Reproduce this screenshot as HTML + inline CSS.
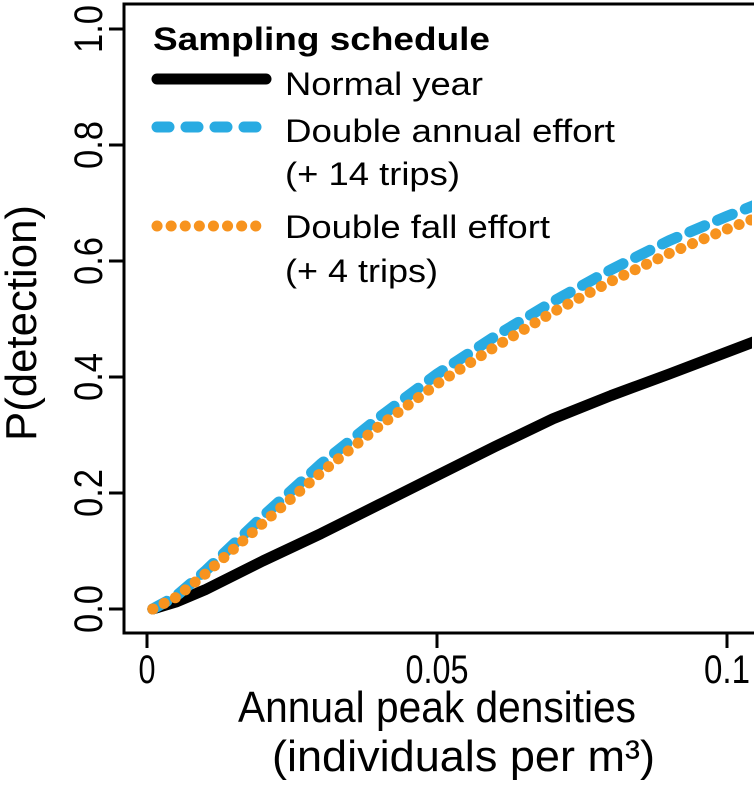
<!DOCTYPE html>
<html><head><meta charset="utf-8"><style>
html,body{margin:0;padding:0;background:#fff;}
svg{display:block;font-family:"Liberation Sans",Arial,sans-serif;}
</style></head><body>
<svg id="chart" width="754" height="786" viewBox="0 0 754 786"></svg>
<script>
const xVals=[0.001,0.005,0.01,0.02,0.03,0.04,0.05,0.06,0.07,0.08,0.09,0.1,0.105];
const normalYear=[0.0,0.012,0.033,0.083,0.13,0.18,0.23,0.28,0.328,0.368,0.405,0.443,0.462];
const doubleAnnual=[0.0,0.022,0.065,0.16,0.25,0.33,0.405,0.47,0.53,0.585,0.635,0.677,0.697];
const doubleFall=[0.0,0.02,0.06,0.148,0.235,0.315,0.388,0.452,0.512,0.565,0.613,0.655,0.674];
const xTicks=[0,0.05,0.1];const xTickLabels=["0","0.05","0.1"];
const xTickLens=[17,63,46];
const yTicks=[0,0.2,0.4,0.6,0.8,1.0];const yTickLabels=["0.0","0.2","0.4","0.6","0.8","1.0"];
const NS="http://www.w3.org/2000/svg";
const svg=document.getElementById('chart');
const X=v=>147+v*5800;const Y=v=>609-v*580;
function mk(t,a,p){const e=document.createElementNS(NS,t);for(const k in a)e.setAttribute(k,a[k]);(p||svg).appendChild(e);return e;}
const defs=mk('defs',{});
const cp=mk('clipPath',{id:'clip'},defs);
mk('rect',{x:125,y:5,width:627,height:627},cp);
const box=mk('rect',{x:124,y:4,width:640,height:629,fill:'none',stroke:'#000','stroke-width':3});


xTicks.forEach((t,i)=>{
 const l=mk('line',{x1:X(t),x2:X(t),y1:633,y2:648,stroke:'#000','stroke-width':3});
 
 
 const tx=mk('text',{x:X(t)-xTickLens[i]/2,y:683,'font-size':40,textLength:xTickLens[i],lengthAdjust:'spacingAndGlyphs'});tx.textContent=xTickLabels[i];
 
 
});
yTicks.forEach((t,i)=>{
 const l=mk('line',{x1:109,x2:124,y1:Y(t),y2:Y(t),stroke:'#000','stroke-width':3});
 
 
 const tx=mk('text',{x:-24,y:0,'font-size':40,textLength:48,lengthAdjust:'spacingAndGlyphs',transform:`translate(102,${Y(t)}) rotate(-90)`});tx.textContent=yTickLabels[i];
 
 
});
function pts(arr){return xVals.map((x,i)=>X(x)+','+Y(arr[i])).join(' ');}
const g=mk('g',{'clip-path':'url(#clip)'});
const s1=mk('polyline',{points:pts(normalYear),fill:'none',stroke:'#000','stroke-width':11,'stroke-linecap':'round','stroke-linejoin':'round'},g);


const s2=mk('polyline',{points:pts(doubleAnnual),fill:'none',stroke:'#29abe2','stroke-width':11,'stroke-linecap':'round','stroke-dasharray':'16 14'},g);


const s3=mk('polyline',{points:pts(doubleFall),fill:'none',stroke:'#f7931e','stroke-width':11,'stroke-linecap':'round','stroke-dasharray':'0.1 12.5'},g);


</script>
<svg width="754" height="786" style="position:absolute;left:0;top:0">
<g font-family="Liberation Sans, Arial, sans-serif">
<text x="153" y="50" font-size="32" font-weight="bold" textLength="337" lengthAdjust="spacingAndGlyphs">Sampling schedule</text>
<line x1="157" y1="79" x2="266" y2="79" stroke="#000" stroke-width="11" stroke-linecap="round"/>
<text x="285" y="95" font-size="32" textLength="198" lengthAdjust="spacingAndGlyphs">Normal year</text>
<line x1="157" y1="127" x2="258" y2="127" stroke="#29abe2" stroke-width="11" stroke-linecap="round" stroke-dasharray="12 17"/>
<text x="285" y="142" font-size="32" textLength="330" lengthAdjust="spacingAndGlyphs">Double annual effort</text>
<text x="285" y="185" font-size="32" textLength="175" lengthAdjust="spacingAndGlyphs">(+ 14 trips)</text>
<line x1="157" y1="226" x2="256" y2="226" stroke="#f7931e" stroke-width="11" stroke-linecap="round" stroke-dasharray="0.1 14"/>
<text x="285" y="238" font-size="32" textLength="265" lengthAdjust="spacingAndGlyphs">Double fall effort</text>
<text x="285" y="282" font-size="32" textLength="153" lengthAdjust="spacingAndGlyphs">(+ 4 trips)</text>
<text x="-118" y="0" transform="translate(36,323) rotate(-90)" font-size="44" textLength="236" lengthAdjust="spacingAndGlyphs">P(detection)</text>
<text x="238" y="722" font-size="44" textLength="398" lengthAdjust="spacingAndGlyphs">Annual peak densities</text>
<text x="272" y="771" font-size="44" textLength="383" lengthAdjust="spacingAndGlyphs">(individuals per m³)</text>
</g></svg>
</body></html>
